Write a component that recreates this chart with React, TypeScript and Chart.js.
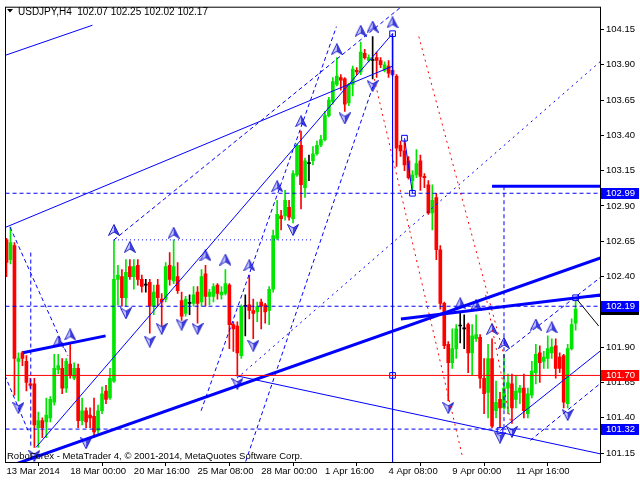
import React, { useEffect, useRef } from "react";
import { Chart, registerables } from "chart.js";

Chart.register(...registerables);

// ---------- candle data (USDJPY H4) ----------
const opens = [
  102.66, 102.52, 102.62, 101.80, 101.86, 101.80, 101.64, 101.64, 101.33, 101.38,
  101.37, 101.40, 101.51, 101.74, 101.75, 101.61, 101.78, 101.68, 101.75, 101.38,
  101.45, 101.42, 101.41, 101.31, 101.45, 101.59, 101.54, 101.66, 102.38, 102.40,
  102.25, 102.47, 102.40, 102.48, 102.38, 102.34, 102.36, 102.19, 102.34, 102.24,
  102.24, 102.48, 102.37, 102.40, 102.23, 102.14, 102.21, 102.21, 102.29, 102.22,
  102.42, 102.26, 102.26, 102.34, 102.27, 102.28, 102.34, 102.06, 102.05, 101.84,
  102.19, 102.20, 102.16, 102.15, 102.22, 102.20, 102.16, 102.31, 102.67, 102.83,
  102.83, 102.89, 102.81, 103.12, 103.33, 103.03, 103.20, 103.22, 103.27, 103.33,
  103.37, 103.54, 103.64, 103.76, 103.81, 103.80, 103.63, 103.76, 103.86, 103.85,
  103.98, 103.93, 103.93, 103.95, 103.93, 103.86, 103.89, 103.86, 103.82, 103.33,
  103.29, 103.22, 103.08, 103.12, 103.22, 103.11, 103.05, 102.85, 102.96, 102.59,
  102.21, 101.92, 101.79, 101.89, 102.05, 102.03, 102.06, 101.86, 101.96, 101.97,
  101.68, 101.58, 101.82, 101.45, 101.53, 101.47, 101.61, 101.64, 101.53, 101.58,
  101.61, 101.43, 101.56, 101.72, 101.86, 101.80, 101.82, 101.86, 101.91, 101.83,
  101.84, 101.50, 101.89, 102.07,
];
const highs = [
  102.67, 102.75, 102.64, 101.86, 101.87, 101.84, 101.68, 101.68, 101.44, 101.40,
  101.54, 101.55, 101.85, 101.85, 101.82, 101.82, 101.92, 101.79, 101.78, 101.54,
  101.47, 101.47, 101.54, 101.49, 101.62, 101.63, 101.75, 102.66, 102.48, 102.45,
  102.52, 102.52, 102.52, 102.52, 102.41, 102.38, 102.38, 102.34, 102.38, 102.28,
  102.50, 102.57, 102.66, 102.50, 102.29, 102.26, 102.27, 102.33, 102.33, 102.45,
  102.48, 102.31, 102.35, 102.35, 102.33, 102.45, 102.35, 102.08, 102.08, 102.20,
  102.27, 102.41, 102.24, 102.22, 102.24, 102.21, 102.33, 102.73, 102.94, 102.87,
  103.01, 102.94, 103.15, 103.34, 103.43, 103.24, 103.26, 103.32, 103.36, 103.40,
  103.57, 103.67, 103.81, 103.95, 103.83, 103.81, 103.77, 103.89, 103.88, 104.06,
  104.01, 103.97, 104.10, 103.99, 103.95, 103.92, 103.93, 104.12, 103.83, 103.36,
  103.36, 103.25, 103.15, 103.30, 103.26, 103.13, 103.08, 103.05, 102.99, 102.62,
  102.22, 101.94, 102.03, 102.06, 102.15, 102.13, 102.07, 102.06, 102.13, 101.99,
  101.82, 101.92, 101.96, 101.66, 101.58, 101.85, 101.71, 101.71, 101.70, 101.63,
  101.71, 101.61, 101.80, 101.92, 101.91, 101.87, 101.98, 101.96, 101.96, 101.86,
  101.85, 101.92, 102.10, 102.25,
];
const lows = [
  102.40, 102.49, 101.56, 101.52, 101.77, 101.59, 101.61, 101.19, 101.19, 101.26,
  101.26, 101.37, 101.49, 101.71, 101.57, 101.58, 101.68, 101.67, 101.33, 101.35,
  101.33, 101.33, 101.26, 101.29, 101.43, 101.50, 101.53, 101.65, 102.20, 102.19,
  102.19, 102.38, 102.31, 102.34, 102.29, 102.29, 102.00, 102.13, 102.19, 102.05,
  102.22, 102.34, 102.35, 102.28, 102.09, 102.12, 102.13, 102.19, 102.07, 102.19,
  102.19, 102.20, 102.22, 102.24, 102.24, 102.27, 101.89, 101.87, 101.70, 101.82,
  101.98, 102.10, 101.96, 102.08, 102.03, 102.07, 102.06, 102.29, 102.66, 102.73,
  102.80, 102.80, 102.78, 103.11, 102.88, 102.96, 103.08, 103.19, 103.26, 103.32,
  103.36, 103.53, 103.62, 103.75, 103.72, 103.57, 103.61, 103.68, 103.83, 103.83,
  103.94, 103.92, 103.80, 103.81, 103.88, 103.85, 103.81, 103.82, 103.18, 103.25,
  103.15, 103.09, 102.99, 103.10, 103.01, 103.03, 102.84, 102.73, 102.52, 102.17,
  101.89, 101.52, 101.75, 101.82, 101.93, 101.89, 101.72, 101.70, 101.94, 101.61,
  101.43, 101.40, 101.33, 101.40, 101.32, 101.46, 101.43, 101.36, 101.47, 101.50,
  101.40, 101.40, 101.54, 101.64, 101.65, 101.75, 101.75, 101.82, 101.68, 101.72,
  101.47, 101.47, 101.88, 102.02,
];
const closes = [
  102.50, 102.64, 101.82, 101.82, 101.82, 101.65, 101.63, 101.35, 101.38, 101.33,
  101.42, 101.53, 101.75, 101.77, 101.61, 101.80, 101.70, 101.75, 101.38, 101.45,
  101.37, 101.40, 101.30, 101.45, 101.57, 101.53, 101.68, 102.38, 102.41, 102.25,
  102.43, 102.40, 102.47, 102.38, 102.33, 102.34, 102.19, 102.29, 102.25, 102.22,
  102.47, 102.38, 102.47, 102.30, 102.12, 102.24, 102.21, 102.27, 102.21, 102.40,
  102.26, 102.29, 102.33, 102.28, 102.29, 102.35, 102.06, 102.03, 101.86, 102.19,
  102.19, 102.16, 102.14, 102.19, 102.19, 102.15, 102.31, 102.69, 102.84, 102.81,
  102.94, 102.82, 103.13, 103.33, 103.05, 103.22, 103.20, 103.27, 103.33, 103.37,
  103.54, 103.65, 103.78, 103.82, 103.79, 103.62, 103.76, 103.87, 103.85, 103.99,
  103.95, 103.95, 103.93, 103.93, 103.90, 103.90, 103.84, 103.83, 103.31, 103.29,
  103.19, 103.10, 103.12, 103.20, 103.11, 103.10, 102.85, 102.94, 102.59, 102.21,
  101.91, 101.79, 101.89, 102.03, 102.05, 102.03, 101.86, 101.98, 101.99, 101.68,
  101.57, 101.82, 101.34, 101.51, 101.47, 101.61, 101.65, 101.47, 101.59, 101.61,
  101.45, 101.57, 101.73, 101.85, 101.79, 101.83, 101.89, 101.90, 101.75, 101.75,
  101.51, 101.89, 102.06, 102.17,
];

// ---------- axes ----------
const xTickIdx = [0, 16, 32, 48, 64, 80, 96, 112, 128];
const xTickLabels = [
  "13 Mar 2014", "18 Mar 00:00", "20 Mar 16:00", "25 Mar 08:00", "28 Mar 00:00",
  "1 Apr 16:00", "4 Apr 08:00", "9 Apr 00:00", "11 Apr 16:00",
];
const yTicks = [104.15, 103.9, 103.65, 103.4, 103.15, 102.9, 102.65, 102.4, 102.15, 101.9, 101.65, 101.4, 101.15];
const yMin = 101.087;
const yMax = 104.304;

// ---------- horizontal levels ----------
const dashedLevels = [102.99, 102.19, 101.32];
const redLevel = 101.7;
const priceTags = [
  { price: 102.17, kind: "bid" },
  { price: 102.99, kind: "blue" },
  { price: 102.19, kind: "blue" },
  { price: 101.7, kind: "red" },
  { price: 101.32, kind: "blue" },
];

// ---------- trend objects: [barIndex, price] ----------
const supportThick = [[-1, 101.04], [150, 102.54]];
const leftThick = [[4.1, 101.86], [24.9, 101.98]];
const resistThick = [[99.1, 102.1], [149.2, 102.27]];
const lowerThin = [[57.4, 101.7], [150, 101.14]];
const topLeftThin = [[-1, 103.96], [21.6, 104.18]];
const longThin = [[-1, 102.74], [97, 103.89]];
const steepThin = [[7.4, 101.19], [97, 104.12]];
const peakVertical = [[97, 104.12], [97, 100.9]];
const zigzagThin = [[100, 103.38], [102, 102.99]];
const targetThick = [[122, 103.04], [149.5, 103.04]];
const targetDrop = [[125, 103.04], [125, 101.32]];
const projection = [[143, 102.25], [148.8, 102.05]];
const tailThin = [[143, 102.25], [149.5, 102.26]];
const dottedBox = [[27, 102.66], [77, 102.66]];
const dashA = [[27, 102.66], [104, 104.42]];
const dashC1 = [[48.9, 101.45], [82.9, 104.17]];
const dashC2 = [[60.1, 101.09], [92.1, 103.75]];
const dashE = [[57.9, 101.68], [149.5, 103.93]];
const chanUpper = [[125.4, 101.87], [149.5, 102.4]];
const chanMid = [[124.1, 101.31], [149.5, 101.88]];
const chanLower = [[131.6, 101.24], [149.5, 101.65]];
const redDot1 = [[92.4, 103.8], [114.6, 101.12]];
const redDot2 = [[103.6, 104.1], [125.4, 101.8]];
const redDot3 = [[120.4, 102.27], [126.6, 101.38]];
const leftVertical = [[6.1, 102.57], [6.1, 101.19]];
const leftDiag = [[0.9, 102.75], [15.4, 101.84]];
const leftDiag2 = [[-0.4, 101.7], [5.4, 101.31]];

// ---------- fractal arrows & markers ----------
const upArrowIdx = [13, 16, 27, 31, 42, 50, 55, 61, 68, 74, 83, 89, 92, 97, 114, 118, 122, 125, 133, 137];
const upArrowPrice = [101.94, 101.99, 102.73, 102.61, 102.71, 102.55, 102.52, 102.48, 103.04, 103.5, 104.01, 104.14, 104.17, 104.2, 102.21, 102.2, 102.03, 101.93, 102.06, 102.04];
const downArrowIdx = [3, 7, 20, 30, 36, 39, 44, 48, 58, 62, 72, 85, 92, 111, 124, 127, 141];
const downArrowPrice = [101.47, 101.13, 101.22, 102.14, 101.94, 102.03, 102.06, 102.03, 101.64, 101.91, 102.73, 103.52, 103.75, 101.47, 101.26, 101.3, 101.42];
const squareIdx = [97, 97, 100, 102, 124, 143];
const squarePrice = [104.12, 101.7, 103.38, 102.99, 101.31, 102.25];

const symbolTitle = "USDJPY,H4";
const watermark = "RoboForex - MetaTrader 4, \u00A9 2001-2014, MetaQuotes Software Corp.";

const FONT = "'Liberation Sans', Arial, sans-serif";
const BLUE = "#0000ff";
const UP = "#00e600";
const DOWN = "#ff0000";

function makeArrow(up: boolean): HTMLCanvasElement {
  const c = document.createElement("canvas");
  c.width = 12;
  c.height = 12;
  const g = c.getContext("2d")!;
  if (!up) {
    g.translate(0, 12);
    g.scale(1, -1);
  }
  g.beginPath();
  g.moveTo(6, 0.5);
  g.lineTo(6, 8);
  g.lineTo(0.5, 11.5);
  g.closePath();
  g.fillStyle = "#c8c8ff";
  g.fill();
  g.beginPath();
  g.moveTo(6, 0.5);
  g.lineTo(11.5, 11.5);
  g.lineTo(6, 8);
  g.closePath();
  g.fillStyle = "#4040e0";
  g.fill();
  g.beginPath();
  g.moveTo(6, 0.5);
  g.lineTo(11.5, 11.5);
  g.lineTo(6, 8);
  g.lineTo(0.5, 11.5);
  g.closePath();
  g.strokeStyle = "#2020c8";
  g.lineWidth = 1;
  g.stroke();
  return c;
}

function lineDs(pts: number[][], color: string, width: number, dash: number[] = []) {
  return {
    type: "line" as const,
    data: pts.map(([x, y]) => ({ x, y })),
    borderColor: color,
    borderWidth: width,
    borderDash: dash,
    pointRadius: 0,
    fill: false,
    tension: 0,
    order: 0,
  };
}

const overlayPlugin = {
  id: "mtOverlay",
  afterDatasetsDraw(chart: any) {
    const ctx = chart.ctx;
    ctx.save();
    ctx.fillStyle = "#000";
    ctx.font = `9.5px ${FONT}`;
    ctx.textBaseline = "alphabetic";
    ctx.textAlign = "left";
    ctx.fillText(watermark, 7, 458.5);
    ctx.restore();
  },
  afterDraw(chart: any) {
    const ctx = chart.ctx;
    const a = chart.chartArea;
    const ys = chart.scales.y;
    ctx.save();
    // frame
    ctx.strokeStyle = "#000";
    ctx.lineWidth = 1;
    ctx.strokeRect(a.left - 0.5, a.top - 0.5, a.right - a.left + 1, a.bottom - a.top + 1);
    // title
    ctx.fillStyle = "#000";
    ctx.beginPath();
    ctx.moveTo(7, 9);
    ctx.lineTo(13, 9);
    ctx.lineTo(10, 12.5);
    ctx.closePath();
    ctx.fill();
    ctx.font = `10px ${FONT}`;
    ctx.textAlign = "left";
    ctx.textBaseline = "alphabetic";
    const n = opens.length - 1;
    const title = `${symbolTitle}  ${opens[n].toFixed(2)} ${highs[n].toFixed(2)} ${lows[n].toFixed(2)} ${closes[n].toFixed(2)}`;
    ctx.fillText(title, 18, 14.5);
    // price tags
    ctx.font = `9.5px ${FONT}`;
    ctx.textBaseline = "middle";
    for (const t of priceTags) {
      const y = Math.round(ys.getPixelForValue(t.price));
      const bg = t.kind === "red" ? "#ff0000" : t.kind === "bid" ? "#000000" : "#0000ff";
      ctx.fillStyle = bg;
      ctx.fillRect(a.right + 1, y - 5, 38, 11);
      ctx.fillStyle = "#ffffff";
      ctx.fillText(t.price.toFixed(2), a.right + 6, y + 0.5);
    }
    ctx.restore();
  },
};

export default function App() {
  const ref = useRef<HTMLCanvasElement | null>(null);

  useEffect(() => {
    if (!ref.current) return;
    const idx = opens.map((_, i) => i);
    const candleColor = idx.map((i) =>
      closes[i] > opens[i] ? UP : closes[i] < opens[i] ? DOWN : "#000000"
    );
    const upArrow = makeArrow(true);
    const downArrow = makeArrow(false);

    const datasets: any[] = [
      // levels
      lineDs([[-2, redLevel], [152, redLevel]], "#ff0000", 1),
      ...dashedLevels.map((p) => lineDs([[-2, p], [152, p]], BLUE, 1, [4, 3])),
      // thick lines
      lineDs(supportThick, BLUE, 3),
      lineDs(leftThick, BLUE, 3),
      lineDs(resistThick, BLUE, 3),
      lineDs(targetThick, BLUE, 3),
      // thin solid
      lineDs(lowerThin, BLUE, 1),
      lineDs(topLeftThin, BLUE, 1),
      lineDs(longThin, BLUE, 1),
      lineDs(steepThin, BLUE, 1),
      lineDs(peakVertical, BLUE, 1),
      lineDs(zigzagThin, BLUE, 1),
      lineDs(chanMid, BLUE, 1),
      lineDs(tailThin, BLUE, 1),
      lineDs(projection, "#000000", 1),
      // dashed
      lineDs(targetDrop, BLUE, 1, [4, 3]),
      lineDs(dashA, BLUE, 1, [4, 3]),
      lineDs(dashC1, BLUE, 1, [4, 3]),
      lineDs(dashC2, BLUE, 1, [4, 3]),
      lineDs(dashE, BLUE, 1, [2, 4]),
      lineDs(chanUpper, BLUE, 1, [4, 3]),
      lineDs(chanLower, BLUE, 1, [4, 3]),
      lineDs(leftVertical, BLUE, 1, [4, 3]),
      lineDs(leftDiag, BLUE, 1, [4, 3]),
      lineDs(leftDiag2, BLUE, 1, [4, 3]),
      lineDs(dottedBox, BLUE, 1, [1, 3]),
      // red dotted
      lineDs(redDot1, "#ff0000", 1, [2, 4]),
      lineDs(redDot2, "#ff0000", 1, [2, 4]),
      lineDs(redDot3, "#ff0000", 1, [2, 4]),
      // markers
      {
        type: "line",
        data: upArrowIdx.map((x, i) => ({ x, y: upArrowPrice[i] })),
        showLine: false,
        pointStyle: upArrow,
        pointRadius: 5,
        order: 0,
      },
      {
        type: "line",
        data: downArrowIdx.map((x, i) => ({ x, y: downArrowPrice[i] })),
        showLine: false,
        pointStyle: downArrow,
        pointRadius: 5,
        order: 0,
      },
      {
        type: "line",
        data: squareIdx.map((x, i) => ({ x, y: squarePrice[i] })),
        showLine: false,
        pointStyle: "rect",
        pointRadius: 4,
        pointBorderColor: BLUE,
        pointBackgroundColor: "#ffffff",
        pointBorderWidth: 1,
        order: 0,
      },
      // candles
      {
        type: "bar",
        data: idx.map((i) => ({ x: i, y: [lows[i], highs[i]] })),
        backgroundColor: candleColor,
        barThickness: 1,
        grouped: false,
        borderWidth: 0,
        order: 2,
      },
      {
        type: "bar",
        data: idx.map((i) => ({ x: i, y: [opens[i], closes[i]] })),
        backgroundColor: candleColor,
        barThickness: 3,
        minBarLength: 1,
        grouped: false,
        borderWidth: 0,
        order: 1,
      },
    ];

    const chart = new Chart(ref.current, {
      type: "bar",
      data: { datasets },
      options: {
        animation: false,
        responsive: false,
        events: [],
        layout: { padding: { left: 3, top: 3, right: 0, bottom: 0 } },
        plugins: {
          legend: { display: false },
          tooltip: { enabled: false },
          title: { display: false },
        },
        scales: {
          x: {
            type: "linear",
            min: -0.125,
            max: 149.125,
            offset: false,
            afterFit: (s: any) => {
              s.height = 18;
            },
            afterBuildTicks: (s: any) => {
              s.ticks = xTickIdx.map((v) => ({ value: v }));
            },
            ticks: {
              autoSkip: false,
              maxRotation: 0,
              minRotation: 0,
              align: "start",
              padding: 0,
              color: "#000",
              font: { family: FONT, size: 9.5 },
              callback: (_v: any, i: number) => xTickLabels[i],
            },
            grid: {
              display: true,
              drawOnChartArea: false,
              drawTicks: true,
              tickLength: 4,
              color: "#000",
            },
            border: { display: true, color: "#000" },
          },
          y: {
            type: "linear",
            position: "right",
            min: yMin,
            max: yMax,
            afterFit: (s: any) => {
              s.width = 40;
            },
            afterBuildTicks: (s: any) => {
              s.ticks = yTicks.map((v) => ({ value: v }));
            },
            ticks: {
              padding: 2,
              color: "#000",
              font: { family: FONT, size: 9.5 },
              callback: (v: any) => Number(v).toFixed(2),
            },
            grid: {
              display: true,
              drawOnChartArea: false,
              drawTicks: true,
              tickLength: 4,
              color: "#000",
            },
            border: { display: true, color: "#000" },
          },
        },
      } as any,
      plugins: [overlayPlugin],
    } as any);

    return () => chart.destroy();
  }, []);

  return (
    <div style={{ position: "fixed", left: 0, top: 0, width: 640, height: 480, background: "#fff" }}>
      <canvas ref={ref} width={640} height={480} style={{ display: "block" }} />
    </div>
  );
}
